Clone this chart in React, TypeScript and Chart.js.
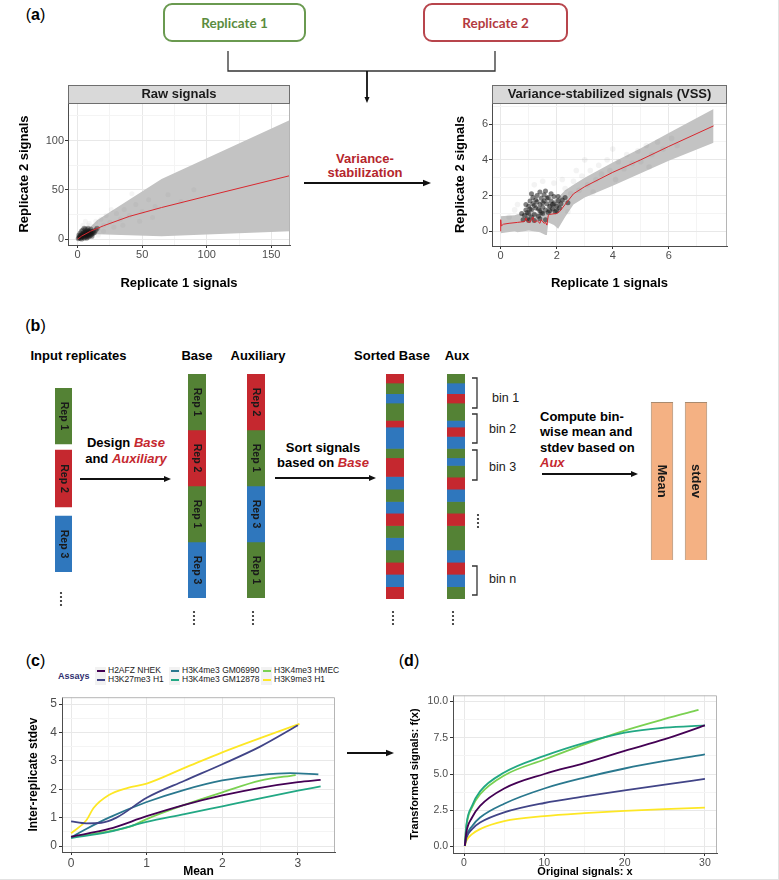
import React, { useEffect, useRef } from "react";
import { Chart, registerables } from "chart.js";
Chart.register(...registerables);

const FONT = "'Liberation Sans', Arial, Helvetica, sans-serif";
const G = "#548235";
const R = "#c5282f";
const B = "#2f77bd";

// ---------- (a) Raw signals ----------
const rawBandX = [0, 5, 15, 65, 165];
const rawBandHigh = [0, 6, 19, 61, 121];
const rawBandLow = [-1, 1, 5, 3, 8];
const rawFitX = [0, 3, 10, 20, 40, 65, 100, 165];
const rawFitY = [0, 3, 8, 13.5, 23, 32, 43.5, 64.5];
const rawDense: number[][] = [
  [0.5, 0.5], [1, 1.5], [1.5, 3], [2, 0.8], [2, 2.5], [2.5, 4], [3, 1.5], [3, 3], [3.5, 5], [4, 2], [4, 4], [4.5, 6],
  [5, 1], [5, 3], [5, 5], [5.5, 7], [6, 2], [6, 4], [6, 6], [6.5, 8], [7, 3], [7, 5], [7, 7], [7.5, 9], [8, 2], [8, 4],
  [8, 6], [8.5, 8], [9, 3], [9, 5], [9, 7], [10, 4], [10, 6], [10, 8], [11, 5], [11, 7], [12, 6], [12, 8], [13, 7],
  [2, 6], [3, 8], [4, 9], [5, 11], [6, 10], [1, 4], [8, 11], [10, 10], [14, 9], [15, 11], [3, 0.2], [7, 1], [11, 3],
];
const rawSparse: number[][] = [
  [4, 14], [6, 18], [9, 16], [12, 13], [14, 18], [16, 10], [18, 20], [20, 14], [22, 24], [25, 17], [28, 12], [30, 26],
  [33, 20], [36, 30], [40, 24], [45, 35], [50, 28], [55, 40], [60, 33], [20, 8], [26, 30], [35, 14], [48, 18], [70, 45],
  [80, 38], [16, 4], [8, 14], [42, 46], [58, 22], [90, 50],
];

// ---------- (a) Variance-stabilized signals ----------
const vssBandX = [0, 0.5, 0.6, 1.0, 1.4, 1.6, 1.65, 1.7, 1.9, 2.05, 2.3, 2.6, 3.0, 4.0, 5.0, 6.0, 7.6];
const vssBandHigh = [0.85, 0.9, 0.95, 1.0, 1.05, 1.1, 1.3, 1.5, 1.75, 1.9, 2.3, 2.6, 3.0, 3.85, 4.65, 5.5, 6.85];
const vssBandLow = [-0.1, 0.0, -0.05, 0.05, -0.05, -0.2, -0.2, 0.5, 0.35, 0.15, 0.8, 1.5, 1.9, 2.55, 3.25, 3.95, 4.95];
const vssFitX = [0, 0, 0.02, 0.1, 0.3, 0.6, 0.85, 0.9, 0.95, 1.05, 1.15, 1.2, 1.3, 1.4, 1.45, 1.55, 1.6, 1.65, 1.7, 1.75, 2.0, 2.1, 2.3, 2.6, 3.0, 4.0, 5.0, 6.0, 7.6];
const vssFitY = [0.0, 0.65, 0.3, 0.4, 0.45, 0.5, 0.55, 0.75, 0.55, 0.5, 0.8, 0.5, 0.6, 0.45, 0.65, 0.45, 0.5, 0.35, 0.9, 0.95, 1.0, 1.1, 1.5, 2.1, 2.5, 3.3, 4.0, 4.75, 5.9];
const vssDense: number[][] = [
  [0.8, 0.65], [0.85, 0.9], [0.9, 1.2], [0.95, 0.7], [1.0, 1.0], [1.0, 1.4], [1.05, 1.7], [1.1, 0.8], [1.1, 1.2],
  [1.15, 1.55], [1.15, 1.9], [1.2, 0.95], [1.25, 1.3], [1.3, 1.65], [1.3, 2.0], [1.35, 0.85], [1.4, 1.15], [1.4, 1.5],
  [1.45, 1.85], [1.5, 1.0], [1.5, 1.35], [1.55, 1.7], [1.55, 2.05], [1.6, 1.2], [1.65, 1.55], [1.7, 1.9], [1.7, 1.05],
  [1.75, 1.4], [1.8, 1.7], [1.85, 1.25], [1.9, 1.55], [1.9, 1.95], [1.95, 1.1], [2.0, 1.4], [2.05, 1.7], [2.1, 1.3],
  [2.15, 1.55], [2.2, 1.75], [1.0, 0.6], [1.2, 0.6], [1.4, 0.7], [1.6, 0.65], [0.9, 1.5], [1.1, 2.1], [1.4, 2.2],
  [1.6, 2.25], [1.8, 2.1], [2.3, 1.9], [2.4, 1.6], [0.75, 1.0], [0.95, 1.05], [1.05, 1.25], [1.25, 1.75], [1.35, 1.25],
  [1.45, 1.05], [1.65, 1.85], [1.75, 1.15], [1.85, 1.5], [2.0, 1.15], [2.05, 1.95], [1.2, 1.45], [1.5, 1.6],
];
const vssSparse: number[][] = [
  [0.3, 0.8], [0.5, 1.2], [0.6, 1.5], [1.2, 2.6], [1.5, 2.8], [1.9, 2.7], [2.3, 2.4], [2.5, 2.1], [2.6, 2.8], [2.8, 2.3],
  [2.9, 3.1], [3.1, 2.6], [3.2, 3.4], [3.4, 2.9], [3.5, 3.7], [3.6, 3.2], [3.8, 4.0], [3.9, 3.4], [4.1, 2.9], [4.2, 3.9],
  [4.4, 3.5], [4.5, 4.3], [4.7, 3.8], [4.9, 4.5], [5.0, 3.9], [5.2, 4.8], [5.4, 4.3], [5.6, 5.0], [5.8, 4.6], [6.1, 5.2],
  [6.3, 4.8], [3.0, 4.0], [2.7, 3.4], [4.0, 4.6], [3.3, 2.2], [5.3, 3.6], [2.4, 1.1], [2.2, 2.9],
];

// ---------- (b) diagram strips ----------
const inputLabels = ["Rep 1", "", "Rep 2", "", "Rep 3"];
const inputColors = [G, "rgba(0,0,0,0)", R, "rgba(0,0,0,0)", B];
const inputSizes = [56, 6, 57, 9, 56];
const baseLabels = ["Rep 1", "Rep 2", "Rep 1", "Rep 3"];
const baseColors = [G, R, G, B];
const baseSizes = [56, 56, 56, 56];
const auxLabels = ["Rep 2", "Rep 1", "Rep 3", "Rep 1"];
const auxColors = [R, G, B, G];
const auxSizes = [56, 56, 56, 56];
const sortedBaseColors = [R, G, B, G, R, B, G, R, B, G, B, R, G, B, G, R, B, R];
const sortedBaseSizes = [27, 32, 28, 52, 20, 64, 28, 56, 38, 37, 35, 37, 36, 37, 37, 36, 37, 37];
const sortedAuxColors = [G, B, R, G, B, R, B, G, B, G, R, B, G, R, G, B, R, B, G];
const sortedAuxSizes = [27, 32, 28, 52, 20, 28, 36, 28, 23, 35, 36, 37, 35, 37, 73, 37, 36, 37, 37];
const binLabels = ["bin 1", "bin 2", "bin 3", "bin n"];
const summaryLabels = ["Mean", "stdev"];
const summaryValues = [1, 1];

// ---------- (c) inter-replicate stdev vs mean ----------
const assayNames = ["H2AFZ NHEK", "H3K27me3 H1", "H3K4me3 GM06990", "H3K4me3 GM12878", "H3K4me3 HMEC", "H3K9me3 H1"];
const assayColors = ["#440154", "#414487", "#2A788E", "#22A884", "#7AD151", "#FDE725"];
const sdH2AFZ_NHEK = [[0, 0.33], [0.5, 0.6], [1, 1.05], [1.5, 1.45], [2, 1.78], [2.5, 2.05], [3, 2.25], [3.3, 2.33]];
const sdH3K27me3_H1 = [[0, 0.87], [0.2, 0.8], [0.4, 0.82], [0.6, 1.0], [1, 1.7], [1.5, 2.3], [2, 2.88], [2.5, 3.5], [3, 4.25]];
const sdGM06990 = [[0, 0.3], [0.2, 0.6], [0.5, 1.0], [1, 1.55], [1.5, 1.98], [2, 2.31], [2.5, 2.5], [2.9, 2.57], [3.27, 2.52]];
const sdGM12878 = [[0, 0.28], [0.5, 0.5], [1, 0.85], [1.5, 1.12], [2, 1.4], [2.5, 1.68], [3, 1.95], [3.3, 2.1]];
const sdHMEC = [[0, 0.32], [0.5, 0.52], [0.8, 0.7], [1, 0.95], [1.5, 1.45], [2, 1.89], [2.5, 2.3], [2.97, 2.5]];
const sdH3K9me3_H1 = [[0, 0.45], [0.2, 0.9], [0.3, 1.35], [0.5, 1.8], [0.75, 2.05], [1, 2.2], [1.5, 2.75], [2, 3.3], [2.5, 3.8], [3.02, 4.3]];
const sdSeries = [sdH2AFZ_NHEK, sdH3K27me3_H1, sdGM06990, sdGM12878, sdHMEC, sdH3K9me3_H1];

// ---------- (d) transformed signals ----------
const fxH2AFZ_NHEK = [[0.1, 0.05], [0.3, 1.0], [1, 2.0], [2, 2.8], [5, 4.0], [10, 5.0], [15, 5.75], [20, 6.6], [25, 7.4], [30, 8.35]];
const fxH3K27me3_H1 = [[0.1, 0.05], [0.3, 0.6], [1, 1.2], [2, 1.65], [5, 2.35], [10, 3.0], [15, 3.45], [20, 3.87], [25, 4.27], [30, 4.66]];
const fxGM06990 = [[0.1, 0.05], [0.3, 0.7], [1, 1.4], [2, 2.0], [5, 2.95], [10, 4.0], [15, 4.75], [20, 5.38], [25, 5.9], [30, 6.35]];
const fxGM12878 = [[0.1, 0.05], [0.3, 1.5], [1, 2.8], [2, 3.8], [5, 5.1], [10, 6.25], [15, 7.15], [20, 7.85], [25, 8.2], [30, 8.35]];
const fxHMEC = [[0.1, 0.05], [0.3, 1.4], [1, 2.7], [2, 3.6], [5, 4.9], [10, 6.0], [15, 7.05], [20, 8.0], [25, 8.8], [29.2, 9.42]];
const fxH3K9me3_H1 = [[0.1, 0.02], [0.3, 0.4], [1, 0.85], [2, 1.2], [5, 1.75], [10, 2.1], [15, 2.3], [20, 2.45], [25, 2.58], [30, 2.68]];
const fxSeries = [fxH2AFZ_NHEK, fxH3K27me3_H1, fxGM06990, fxGM12878, fxHMEC, fxH3K9me3_H1];

// ---------- helpers ----------
const pts = (a: number[][]) => a.map(([x, y]) => ({ x, y }));
const zipXY = (xs: number[], ys: number[]) => xs.map((x, i) => ({ x, y: ys[i] }));

const panelPlugin = {
  id: "panel",
  afterDatasetsDraw(chart: any, _a: any, opts: any) {
    const { ctx, chartArea } = chart;
    const { left, top, right, bottom } = chartArea;
    ctx.save();
    ctx.strokeStyle = "#b5b5b5";
    ctx.lineWidth = 1;
    ctx.beginPath();
    ctx.moveTo(left, top + 0.5);
    ctx.lineTo(right - 0.5, top + 0.5);
    ctx.lineTo(right - 0.5, bottom);
    ctx.stroke();
    if (opts && opts.strip) {
      const h = 18;
      ctx.fillStyle = "#d9d9d9";
      ctx.fillRect(left, top - h, right - left, h);
      ctx.strokeStyle = "#6e6e6e";
      ctx.strokeRect(left + 0.5, top - h + 0.5, right - left - 1, h);
      ctx.fillStyle = "#1a1a1a";
      ctx.font = `bold 13px ${FONT}`;
      ctx.textAlign = "center";
      ctx.textBaseline = "middle";
      ctx.fillText(opts.strip, (left + right) / 2, top - h / 2 + 0.5);
    }
    ctx.restore();
  },
};

const segLabelPlugin = {
  id: "segLabels",
  afterDatasetsDraw(chart: any, _a: any, opts: any) {
    const ctx = chart.ctx;
    chart.data.datasets.forEach((ds: any, i: number) => {
      const meta = chart.getDatasetMeta(i);
      meta.data.forEach((el: any, j: number) => {
        const text = opts.fromCategories ? chart.data.labels[j] : ds.label;
        if (!text) return;
        const { x, y, base } = el.getProps(["x", "y", "base"], true);
        ctx.save();
        ctx.translate(x, (y + base) / 2);
        ctx.rotate(Math.PI / 2);
        ctx.font = `bold ${opts.size}px ${FONT}`;
        ctx.fillStyle = "#1a1a1a";
        ctx.textAlign = "center";
        ctx.textBaseline = "middle";
        ctx.fillText(text, 0, 0);
        ctx.restore();
      });
    });
  },
};

function axis(o: any) {
  const majors: number[] = o.majors;
  const minors: number[] = o.minors;
  const isMajor = (v: number) => majors.some((m) => Math.abs(m - v) < 1e-9);
  return {
    type: "linear",
    position: o.position,
    min: o.min,
    max: o.max,
    afterBuildTicks: (s: any) => {
      s.ticks = majors.concat(minors).sort((a, b) => a - b).map((v) => ({ value: v }));
    },
    afterFit: (s: any) => {
      if (o.position === "bottom") s.height = o.fit;
      else s.width = o.fit;
    },
    ticks: {
      autoSkip: false,
      maxRotation: 0,
      minRotation: 0,
      padding: o.tickPad ?? 1,
      color: "#4d4d4d",
      font: { family: FONT, size: o.tickSize },
      callback: (v: number) => (isMajor(v) ? (o.fmt ? o.fmt(v) : String(v)) : ""),
    },
    grid: {
      color: (c: any) => (c.tick && isMajor(c.tick.value) ? "#e8e8e8" : "#f4f4f4"),
      tickColor: (c: any) => (c.tick && isMajor(c.tick.value) ? "#333" : "rgba(0,0,0,0)"),
      tickLength: 3,
      lineWidth: 1,
    },
    border: { display: true, color: "#4d4d4d", width: 1 },
    title: {
      display: true,
      text: o.title,
      color: "#000",
      font: { family: FONT, size: o.titleSize, weight: "bold" },
      padding: { top: o.titlePad, bottom: o.titlePadB ?? o.titlePad },
    },
  };
}

function baseOptions(padding: any, scales: any, pluginOpts: any = {}) {
  return {
    animation: false,
    responsive: false,
    devicePixelRatio: 1,
    events: [],
    layout: { padding },
    plugins: { legend: { display: false }, tooltip: { enabled: false }, ...pluginOpts },
    scales,
  };
}

function rawConfig() {
  return {
    type: "scatter",
    data: {
      datasets: [
        { data: zipXY(rawFitX, rawFitY), showLine: true, borderColor: "#d9272e", borderWidth: 1, pointRadius: 0 },
        { data: pts(rawDense), pointRadius: 2.6, backgroundColor: "rgba(20,20,20,0.4)", borderWidth: 0 },
        { data: pts(rawSparse), pointRadius: 2.5, backgroundColor: "rgba(110,110,110,0.07)", borderWidth: 0 },
        { data: zipXY(rawBandX, rawBandHigh), showLine: true, borderWidth: 0, borderColor: "rgba(0,0,0,0)", pointRadius: 0, fill: "+1", backgroundColor: "#c3c3c3" },
        { data: zipXY(rawBandX, rawBandLow), showLine: true, borderWidth: 0, borderColor: "rgba(0,0,0,0)", pointRadius: 0 },
      ],
    },
    options: baseOptions(
      { top: 23, right: 10, left: 0, bottom: 0 },
      {
        x: axis({ position: "bottom", min: -7.5, max: 164.5, majors: [0, 50, 100, 150], minors: [25, 75, 125], fit: 46, tickSize: 11, tickPad: 0, title: "Replicate 1 signals", titleSize: 13, titlePad: 0 }),
        y: axis({ position: "left", min: -6, max: 138, majors: [0, 50, 100], minors: [25, 75, 125], fit: 58, tickSize: 11, title: "Replicate 2 signals", titleSize: 13, titlePad: 7 }),
      },
      { panel: { strip: "Raw signals" } }
    ),
    plugins: [panelPlugin],
  };
}

function vssConfig() {
  return {
    type: "scatter",
    data: {
      datasets: [
        { data: zipXY(vssFitX, vssFitY), showLine: true, borderColor: "#d9272e", borderWidth: 1, pointRadius: 0 },
        { data: pts(vssDense), pointRadius: 2.5, backgroundColor: "rgba(25,25,25,0.55)", borderWidth: 0 },
        { data: pts(vssSparse), pointRadius: 2.8, backgroundColor: "rgba(100,100,100,0.08)", borderWidth: 0 },
        { data: zipXY(vssBandX, vssBandHigh), showLine: true, borderWidth: 0, borderColor: "rgba(0,0,0,0)", pointRadius: 0, fill: "+1", backgroundColor: "#c3c3c3" },
        { data: zipXY(vssBandX, vssBandLow), showLine: true, borderWidth: 0, borderColor: "rgba(0,0,0,0)", pointRadius: 0 },
      ],
    },
    options: baseOptions(
      { top: 23, right: 10, left: 0, bottom: 0 },
      {
        x: axis({ position: "bottom", min: -0.31, max: 8.08, majors: [0, 2, 4, 6], minors: [1, 3, 5, 7], fit: 45, tickSize: 11, tickPad: 0, title: "Replicate 1 signals", titleSize: 13, titlePad: 0 }),
        y: axis({ position: "left", min: -0.82, max: 7.18, majors: [0, 2, 4, 6], minors: [1, 3, 5, 7], fit: 46, tickSize: 11, title: "Replicate 2 signals", titleSize: 13, titlePad: 7 }),
      },
      { panel: { strip: "Variance-stabilized signals (VSS)" } }
    ),
    plugins: [panelPlugin],
  };
}

function sdConfig() {
  return {
    type: "scatter",
    data: {
      datasets: sdSeries.map((s, i) => ({
        label: assayNames[i],
        data: pts(s),
        showLine: true,
        borderColor: assayColors[i],
        borderWidth: 1.8,
        pointRadius: 0,
        cubicInterpolationMode: "monotone",
      })),
    },
    options: baseOptions(
      { top: 5, right: 10, left: 0, bottom: 0 },
      {
        x: axis({ position: "bottom", min: -0.12, max: 3.49, majors: [0, 1, 2, 3], minors: [0.5, 1.5, 2.5], fit: 28, tickSize: 12, tickPad: 1, title: "Mean", titleSize: 12, titlePad: 1 }),
        y: axis({ position: "left", min: -0.21, max: 5.24, majors: [0, 1, 2, 3, 4, 5], minors: [0.5, 1.5, 2.5, 3.5, 4.5], fit: 44, tickSize: 12, tickPad: 2, title: "Inter-replicate stdev", titleSize: 12, titlePad: 8 }),
      },
      { panel: {} }
    ),
    plugins: [panelPlugin],
  };
}

function fxConfig() {
  return {
    type: "scatter",
    data: {
      datasets: fxSeries.map((s, i) => ({
        label: assayNames[i],
        data: pts(s),
        showLine: true,
        borderColor: assayColors[i],
        borderWidth: 1.8,
        pointRadius: 0,
        cubicInterpolationMode: "monotone",
      })),
    },
    options: baseOptions(
      { top: 5, right: 10, left: 0, bottom: 0 },
      {
        x: axis({ position: "bottom", min: -1.37, max: 31.5, majors: [0, 10, 20, 30], minors: [5, 15, 25], fit: 27, tickSize: 10.5, tickPad: 1, title: "Original signals: x", titleSize: 11, titlePad: 1.4 }),
        y: axis({ position: "left", min: -0.45, max: 10.43, majors: [0, 2.5, 5, 7.5, 10], minors: [1.25, 3.75, 6.25, 8.75], fit: 53, tickSize: 10.5, tickPad: 2, fmt: (v: number) => v.toFixed(1), title: "Transformed signals: f(x)", titleSize: 11, titlePad: 8.4 }),
      },
      { panel: {} }
    ),
    plugins: [panelPlugin],
  };
}

function stripConfig(sizes: number[], colors: string[], labels: string[] | null, fontSize: number) {
  const total = sizes.reduce((a, b) => a + b, 0);
  return {
    type: "bar",
    data: {
      labels: [""],
      datasets: sizes.map((s, i) => ({
        label: labels ? labels[i] : "",
        data: [s],
        backgroundColor: colors[i],
        borderWidth: 0,
        barPercentage: 1,
        categoryPercentage: 1,
      })),
    },
    options: {
      ...baseOptions(0, {
        x: { stacked: true, display: false },
        y: { stacked: true, display: false, reverse: true, min: 0, max: total },
      }),
      plugins: { legend: { display: false }, tooltip: { enabled: false }, segLabels: { size: fontSize } },
    },
    plugins: [segLabelPlugin],
  };
}

function summaryConfig() {
  return {
    type: "bar",
    data: {
      labels: summaryLabels,
      datasets: [
        {
          data: summaryValues,
          backgroundColor: "#f4b183",
          borderColor: "#a98a6e",
          borderWidth: 1,
          barPercentage: 0.66,
          categoryPercentage: 1,
        },
      ],
    },
    options: {
      ...baseOptions(0, {
        x: { display: false },
        y: { display: false, min: 0, max: 1 },
      }),
      plugins: { legend: { display: false }, tooltip: { enabled: false }, segLabels: { size: 13, fromCategories: true } },
    },
    plugins: [segLabelPlugin],
  };
}

function ChartCanvas({ left, top, width, height, make }: any) {
  const ref = useRef<HTMLCanvasElement>(null);
  useEffect(() => {
    const chart = new Chart(ref.current as HTMLCanvasElement, make());
    return () => chart.destroy();
  }, []);
  return (
    <canvas
      ref={ref}
      width={width}
      height={height}
      style={{ position: "absolute", left, top, width, height }}
    />
  );
}

function Txt({ cx, cy, left, children, size = 13, bold = true, color = "#000", align = "center", lh, family }: any) {
  const style: any = {
    position: "absolute",
    top: cy,
    fontSize: size,
    fontWeight: bold ? "bold" : "normal",
    color,
    whiteSpace: "nowrap",
    lineHeight: lh ? `${lh}px` : 1.15,
    textAlign: align,
    fontFamily: family || FONT,
  };
  if (left !== undefined) {
    style.left = left;
    style.transform = "translateY(-50%)";
  } else {
    style.left = cx;
    style.transform = "translate(-50%,-50%)";
  }
  return <div style={style}>{children}</div>;
}

function Arrow({ x1, y1, x2, y2, w = 1.8, head = 7 }: any) {
  const dx = x2 - x1;
  const dy = y2 - y1;
  const L = Math.hypot(dx, dy);
  const ux = dx / L;
  const uy = dy / L;
  const bx = x2 - ux * head;
  const by = y2 - uy * head;
  const px = -uy * head * 0.42;
  const py = ux * head * 0.42;
  return (
    <g>
      <line x1={x1} y1={y1} x2={bx + ux} y2={by + uy} stroke="#111" strokeWidth={w} />
      <polygon points={`${x2},${y2} ${bx + px},${by + py} ${bx - px},${by - py}`} fill="#111" />
    </g>
  );
}

function VDots({ x, y }: any) {
  return (
    <g fill="#222">
      {[0, 4, 8, 12].map((d) => (
        <circle key={d} cx={x} cy={y + d} r={1.1} />
      ))}
    </g>
  );
}

function Bracket({ x, y1, y2 }: any) {
  return <path d={`M${x} ${y1} H${x + 5} V${y2} H${x}`} stroke="#333" strokeWidth={1.3} fill="none" />;
}

function PanelLabel({ cx, cy, letter }: any) {
  return (
    <Txt cx={cx} cy={cy} size={16} bold={false}>
      (<b>{letter}</b>)
    </Txt>
  );
}

const legendColX = [95, 169, 261];
const legendRowY = [671, 680];

export default function App() {
  const binY = [[378, 408], [414, 443], [450, 480], [566, 595]];
  const binTextY = [398, 429, 467, 579];
  const binTextX = [492, 489, 489, 489];
  return (
    <div
      style={{
        position: "absolute",
        left: 0,
        top: 0,
        width: 779,
        height: 880,
        background: "#fff",
        fontFamily: FONT,
        overflow: "hidden",
      }}
    >
      {/* ---------------- (a) ---------------- */}
      <PanelLabel cx={35.5} cy={15} letter="a" />
      <div
        style={{
          position: "absolute", left: 163, top: 3, width: 143, height: 39, boxSizing: "border-box",
          border: "2px solid #6a9a50", borderRadius: 9, display: "flex", alignItems: "center", justifyContent: "center",
          color: "#5b8c3e", fontFamily: "Lato, 'Open Sans', sans-serif", fontWeight: "bold", fontSize: 13.5,
        }}
      >
        Replicate 1
      </div>
      <div
        style={{
          position: "absolute", left: 423, top: 3, width: 145, height: 39, boxSizing: "border-box",
          border: "2px solid #b8454c", borderRadius: 9, display: "flex", alignItems: "center", justifyContent: "center",
          color: "#b33a3f", fontFamily: "Lato, 'Open Sans', sans-serif", fontWeight: "bold", fontSize: 13.5,
        }}
      >
        Replicate 2
      </div>
      <ChartCanvas left={10} top={80} width={290} height={211} make={rawConfig} />
      <ChartCanvas left={446} top={80} width={291} height={211} make={vssConfig} />
      <Txt cx={365} cy={166} size={13} color="#b5262d" lh={14}>
        Variance-
        <br />
        stabilization
      </Txt>

      {/* ---------------- (b) ---------------- */}
      <PanelLabel cx={35.5} cy={326} letter="b" />
      <Txt cx={78.5} cy={356}>Input replicates</Txt>
      <Txt cx={197} cy={356}>Base</Txt>
      <Txt cx={258} cy={356}>Auxiliary</Txt>
      <Txt cx={392} cy={356}>Sorted Base</Txt>
      <Txt cx={457} cy={356}>Aux</Txt>
      <Txt cx={126} cy={451} lh={16}>
        Design <i style={{ color: R }}>Base</i>
        <br />
        and <i style={{ color: R }}>Auxiliary</i>
      </Txt>
      <Txt cx={323} cy={454.5} lh={15}>
        Sort signals
        <br />
        based on <i style={{ color: R }}>Base</i>
      </Txt>
      <Txt left={540} cy={440} lh={15.3} align="left">
        Compute bin-
        <br />
        wise mean and
        <br />
        stdev based on
        <br />
        <i style={{ color: R }}>Aux</i>
      </Txt>
      {binLabels.map((b, i) => (
        <Txt key={b} left={binTextX[i]} cy={binTextY[i]} size={12.5} bold={false} color="#1a1a1a">
          {b}
        </Txt>
      ))}
      <ChartCanvas left={55} top={388} width={17} height={184} make={() => stripConfig(inputSizes, inputColors, inputLabels, 10.5)} />
      <ChartCanvas left={188} top={374} width={18} height={224} make={() => stripConfig(baseSizes, baseColors, baseLabels, 10.5)} />
      <ChartCanvas left={247} top={374} width={18} height={224} make={() => stripConfig(auxSizes, auxColors, auxLabels, 10.5)} />
      <ChartCanvas left={386} top={374} width={18} height={225} make={() => stripConfig(sortedBaseSizes, sortedBaseColors, null, 10)} />
      <ChartCanvas left={447} top={374} width={18} height={225} make={() => stripConfig(sortedAuxSizes, sortedAuxColors, null, 10)} />
      <ChartCanvas left={645} top={402} width={68} height={158} make={summaryConfig} />

      {/* ---------------- (c) ---------------- */}
      <PanelLabel cx={35.5} cy={661} letter="c" />
      <Txt left={58} cy={676} size={9} color="#2f2f6f">Assays</Txt>
      {assayNames.map((n, i) => {
        const col = Math.floor(i / 2);
        const row = i % 2;
        return (
          <React.Fragment key={n}>
            <div
              style={{
                position: "absolute", left: legendColX[col], top: legendRowY[row] - 4.5, width: 11, height: 9,
                background: "#f2f2f2",
              }}
            >
              <div style={{ position: "absolute", left: 1.5, top: 3.5, width: 8, height: 1.8, background: assayColors[i] }} />
            </div>
            <Txt left={legendColX[col] + 13} cy={legendRowY[row]} size={8.5} bold={false} color="#1a1a1a">
              {n}
            </Txt>
          </React.Fragment>
        );
      })}
      <ChartCanvas left={18} top={688} width={327} height={192} make={sdConfig} />

      {/* ---------------- (d) ---------------- */}
      <PanelLabel cx={409} cy={661} letter="d" />
      <ChartCanvas left={400} top={687} width={327} height={193} make={fxConfig} />

      {/* ---------------- connectors ---------------- */}
      <svg width={779} height={880} style={{ position: "absolute", left: 0, top: 0, pointerEvents: "none" }}>
        <path d="M228 51 V71 H495 V51" stroke="#333" strokeWidth={1.3} fill="none" />
        <Arrow x1={367} y1={71} x2={367} y2={103} w={1.8} head={6} />
        <Arrow x1={304} y1={183} x2={431} y2={183} w={2} head={8} />
        <Arrow x1={80} y1={479} x2={171} y2={479} />
        <Arrow x1={275} y1={478} x2={376} y2={478} />
        <Arrow x1={542} y1={474} x2={638} y2={474} />
        <Arrow x1={347} y1={753} x2={394} y2={753} w={2} head={8} />
        {binY.map(([a, b], i) => (
          <Bracket key={i} x={472} y1={a} y2={b} />
        ))}
        <VDots x={61} y={593} />
        <VDots x={194} y={612} />
        <VDots x={253} y={612} />
        <VDots x={393} y={612} />
        <VDots x={453} y={612} />
        <VDots x={478} y={515} />
        <line x1={778.5} y1={0} x2={778.5} y2={880} stroke="#e2e2e2" strokeWidth={1} />
        <line x1={0} y1={879.5} x2={779} y2={879.5} stroke="#e2e2e2" strokeWidth={1} />
      </svg>
    </div>
  );
}
